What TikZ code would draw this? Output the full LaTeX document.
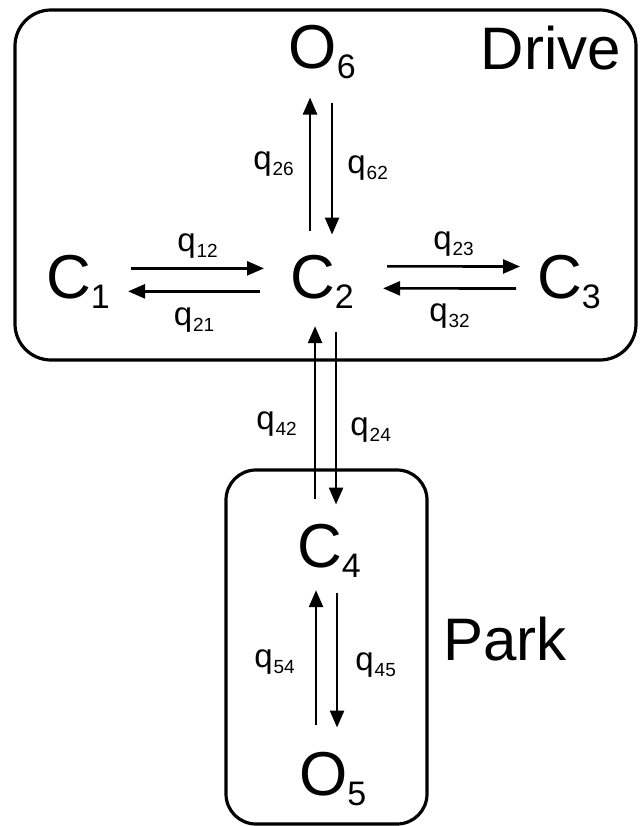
\documentclass[tikz,border=0pt]{standalone}
\usepackage{fontspec}
\setmainfont{Liberation Sans}
\usetikzlibrary{arrows.meta}
\usetikzlibrary{calc}

\newcommand{\statesub}[1]{\raisebox{-10pt}{\fontsize{34}{34}\selectfont #1}}
\newcommand{\ratesub}[1]{\raisebox{-6pt}{\fontsize{19}{19}\selectfont\kern1pt #1}}

\tikzset{
    state/.style={inner sep=0pt, anchor=base west, font=\fontsize{62}{62}\selectfont},
    regime/.style={inner sep=0pt, anchor=base west, font=\fontsize{60}{60}\selectfont},
    rate/.style={inner sep=0pt, font=\fontsize{33}{33}\selectfont},
    flow/.style={line width=2.6pt, -{Triangle[length=17pt, width=14pt]}},
    regimebox/.style={line width=3.2pt}
}

\begin{document}
\begin{tikzpicture}[x=1pt, y=-1pt]
    \useasboundingbox (0,0) rectangle (641,826);

    % Regime boxes
    \draw [regimebox, rounded corners=36pt] (15,10) rectangle (636,360);
    \draw [regimebox, rounded corners=30pt] (226,470) rectangle (427,824);

    % Regime labels
    \node [regime] (drive) at (480.5,70) {Drive};
    \node [regime] (park) at (443,660) {Park};

    % States
    \node [state] (O6) at (288.5,69) {O\statesub{6}};
    \node [state] (C1) at (46,298) {C\statesub{1}};
    \node [state] (C2) at (290,298) {C\statesub{2}};
    \node [state] (C3) at (537,298) {C\statesub{3}};
    \node [state] (C4) at (297,567) {C\statesub{4}};
    \node [state] (O5) at (299,795) {O\statesub{5}};

    % Drive : horizontal transitions
    \draw [flow] ([xshift=21pt,yshift=13pt]C1.east) -- node [rate, above=9pt] (q12) {q\ratesub{12}} ([xshift=-26pt,yshift=13pt]C2.west);
    \draw [flow] ([xshift=-30pt,yshift=-10pt]C2.west) -- node [rate, below=15pt] (q21) {q\ratesub{21}} ([xshift=18pt,yshift=-10pt]C1.east);
    \draw [flow] ([xshift=33pt,yshift=15pt]C2.east) -- node [rate, above=9pt] (q23) {q\ratesub{23}} ([xshift=-17pt,yshift=15pt]C3.west);
    \draw [flow] ([xshift=-21pt,yshift=-7pt]C3.west) -- node [rate, below=14pt] (q32) {q\ratesub{32}} ([xshift=29pt,yshift=-7pt]C2.east);

    % Drive : vertical transitions
    \draw [flow] ([xshift=-12pt,yshift=24pt]C2.north) -- node [rate, left=15pt] (q26) {q\ratesub{26}} ([xshift=-12pt,yshift=-18pt]C2.north |- O6.south);
    \draw [flow] ([xshift=10pt,yshift=-23pt]C2.north |- O6.south) -- node [rate, right=14pt] (q62) {q\ratesub{62}} ([xshift=10pt,yshift=20pt]C2.north);

    % Drive <-> Park
    \draw [flow] ([xshift=-14pt,yshift=25pt]C4.north) -- node [rate, left=17pt, yshift=-12pt] (q42) {q\ratesub{42}} ([xshift=-14pt,yshift=-18pt]C4.north |- C2.south);
    \draw [flow] ([xshift=7pt,yshift=-24pt]C4.north |- C2.south) -- node [rate, right=13pt, yshift=-12pt] (q24) {q\ratesub{24}} ([xshift=7pt,yshift=19pt]C4.north);

    % Park : vertical transitions
    \draw [flow] ([xshift=-13pt,yshift=27pt]C4.south |- O5.north) -- node [rate, left=20pt, yshift=-5pt] (q54) {q\ratesub{54}} ([xshift=-13pt,yshift=-13pt]C4.south);
    \draw [flow] ([xshift=8pt,yshift=-16pt]C4.south) -- node [rate, right=17pt, yshift=-5pt] (q45) {q\ratesub{45}} ([xshift=8pt,yshift=24pt]C4.south |- O5.north);

\end{tikzpicture}
\end{document}
